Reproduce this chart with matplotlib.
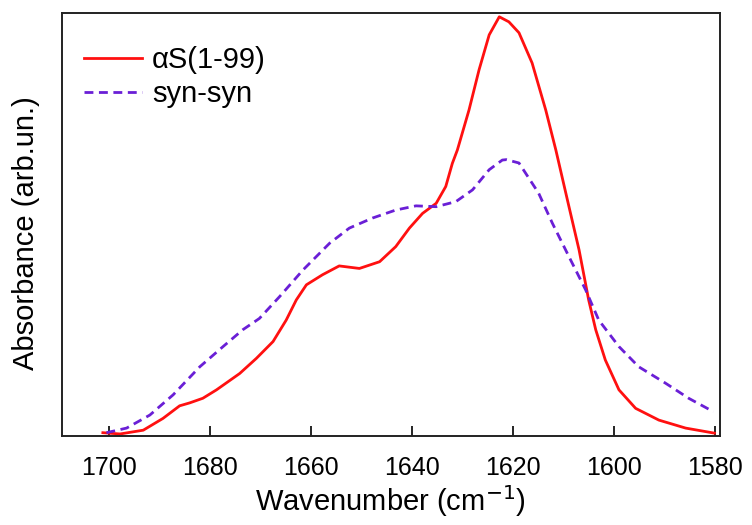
import numpy as np
import matplotlib.pyplot as plt

plt.rcParams['font.family'] = ['Liberation Sans', 'DejaVu Sans']

# alpha-synuclein fragment
wn_as = [1701.2, 1697.8, 1693.2, 1689.3, 1686.0, 1684.0, 1681.4, 1678.7, 1674.1,
         1670.8, 1667.5, 1664.9, 1662.9, 1660.9, 1657.7, 1654.4, 1650.4, 1646.4,
         1643.2, 1640.5, 1637.9, 1635.2, 1633.3, 1632.0, 1631.0, 1628.7, 1626.7,
         1624.7, 1622.7, 1620.8, 1618.8, 1616.2, 1613.5, 1611.5, 1608.9, 1606.9,
         1605.0, 1603.6, 1601.7, 1599.0, 1595.7, 1591.1, 1585.8, 1580.6, 1580.1]
abs_as = [0.009, 0.006, 0.015, 0.043, 0.073, 0.080, 0.091, 0.111, 0.150,
          0.186, 0.226, 0.277, 0.325, 0.361, 0.385, 0.406, 0.400, 0.416,
          0.452, 0.496, 0.531, 0.555, 0.595, 0.650, 0.682, 0.777, 0.873,
          0.956, 0.999, 0.987, 0.961, 0.889, 0.777, 0.682, 0.547, 0.444,
          0.325, 0.254, 0.182, 0.111, 0.067, 0.039, 0.020, 0.009, 0.008]

# syn-syn
wn_ss = [1700.5, 1696.5, 1691.9, 1687.3, 1682.0, 1677.4, 1673.5, 1670.2, 1666.2,
         1661.6, 1656.3, 1652.4, 1647.8, 1643.2, 1639.2, 1635.2, 1631.3, 1628.0,
         1624.7, 1622.1, 1621.3, 1618.8, 1614.9, 1612.2, 1608.9, 1605.6, 1603.0,
         1599.0, 1595.1, 1589.8, 1585.2, 1580.3]
abs_ss = [0.009, 0.020, 0.051, 0.099, 0.166, 0.214, 0.254, 0.281, 0.333,
          0.396, 0.460, 0.496, 0.520, 0.539, 0.549, 0.547, 0.559, 0.587,
          0.635, 0.658, 0.659, 0.651, 0.579, 0.508, 0.428, 0.349, 0.277,
          0.214, 0.166, 0.127, 0.091, 0.059]

xticks = [1700, 1680, 1660, 1640, 1620, 1600, 1580]

fig = plt.figure(figsize=(7.52, 5.25), dpi=100)
ax = fig.add_axes([0.0824, 0.1686, 0.875, 0.8066])

ax.plot(wn_as, abs_as, color='#ff1010', lw=2.0, label='\u03b1S(1-99)',
        solid_joinstyle='round')
ax.plot(wn_ss, abs_ss, color='#6a1fd6', lw=2.0, dashes=(3.2, 2.0), label='syn-syn')

ax.set_xlim(1709.3, 1579.0)
ax.set_ylim(0, 1.008)
ax.set_xticks(xticks)
ax.set_yticks([])
ax.tick_params(axis='x', direction='in', length=7, width=1.2, labelsize=18, pad=14)
for s in ax.spines.values():
    s.set_linewidth(1.4)
    s.set_color('#222222')

ax.set_xlabel('Wavenumber (cm$^{-1}$)', fontsize=21, labelpad=2)
ax.set_ylabel('Absorbance (arb.un.)', fontsize=21)
ax.yaxis.set_label_coords(-0.033, 0.48)

ax.legend(loc='upper left', bbox_to_anchor=(0.033, 0.922), frameon=False,
          fontsize=21, handlelength=2.0, handletextpad=0.35, labelspacing=0.2,
          borderpad=0, borderaxespad=0)

fig.savefig('out.png', dpi=100)
